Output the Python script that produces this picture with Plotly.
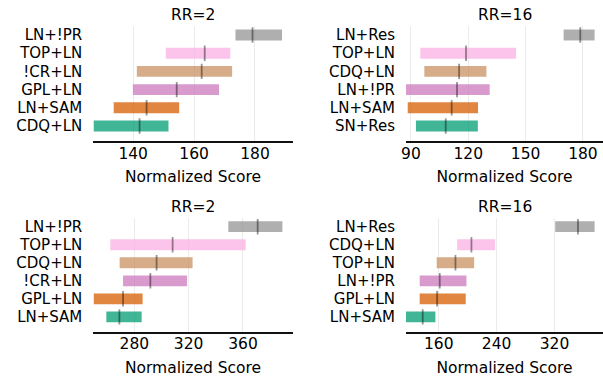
import plotly.graph_objects as go

# ---- data (bottom to top) ----
p1_title = "RR=2"
p1_labels = ["CDQ+LN", "LN+SAM", "GPL+LN", "!CR+LN", "TOP+LN", "LN+!PR"]
p1_low = [127.0, 133.6, 139.9, 141.2, 150.7, 173.6]
p1_high = [151.6, 155.1, 168.2, 172.5, 171.9, 188.9]
p1_med = [142.1, 144.4, 154.3, 162.5, 163.5, 179.2]
p1_ticks = [140, 160, 180]

p2_title = "RR=16"
p2_labels = ["SN+Res", "LN+SAM", "LN+!PR", "CDQ+LN", "TOP+LN", "LN+Res"]
p2_low = [92.6, 88.3, 87.4, 97.0, 94.9, 169.9]
p2_high = [125.0, 125.1, 131.2, 129.5, 145.0, 186.1]
p2_med = [108.2, 111.3, 114.1, 115.2, 118.8, 178.6]
p2_ticks = [90, 120, 150, 180]

p3_title = "RR=2"
p3_labels = ["LN+SAM", "GPL+LN", "!CR+LN", "CDQ+LN", "TOP+LN", "LN+!PR"]
p3_low = [259.4, 250.1, 271.7, 269.2, 262.3, 349.2]
p3_high = [285.4, 286.1, 318.8, 322.9, 362.0, 389.0]
p3_med = [269.0, 271.7, 291.8, 296.4, 308.2, 370.8]
p3_ticks = [280, 320, 360]

p4_title = "RR=16"
p4_labels = ["LN+SAM", "GPL+LN", "LN+!PR", "TOP+LN", "CDQ+LN", "LN+Res"]
p4_low = [114.8, 133.7, 133.7, 157.2, 185.4, 320.9]
p4_high = [155.4, 197.3, 198.3, 208.9, 237.9, 375.3]
p4_med = [137.9, 157.7, 161.4, 183.1, 205.2, 352.3]
p4_ticks = [160, 240, 320]

x_label = "Normalized Score"
colors = ["#029e73", "#d55e00", "#cc78bc", "#ca9161", "#fbafe4", "#949494"]

panels = [
    (p1_title, p1_labels, p1_low, p1_high, p1_med, p1_ticks, [126.9, 192.4]),
    (p2_title, p2_labels, p2_low, p2_high, p2_med, p2_ticks, [87.4, 190.5]),
    (p3_title, p3_labels, p3_low, p3_high, p3_med, p3_ticks, [249.8, 396.6]),
    (p4_title, p4_labels, p4_low, p4_high, p4_med, p4_ticks, [114.8, 386.9]),
]

W, H = 603, 377
xdoms = [[93.3 / W, 292.7 / W], [406 / W, 1.0], [93.3 / W, 292.7 / W], [406 / W, 1.0]]
ydoms = [[1 - 141 / H, 1 - 25.9 / H], [1 - 141 / H, 1 - 25.9 / H],
         [1 - 331.7 / H, 1 - 217.7 / H], [1 - 331.7 / H, 1 - 217.7 / H]]

FONT = "DejaVu Sans"
fig = go.Figure()
layout = dict(width=W, height=H, margin=dict(l=0, r=0, t=0, b=0, autoexpand=False),
              plot_bgcolor="white", paper_bgcolor="white", showlegend=False,
              font=dict(family=FONT, size=15, color="#000"), bargap=0.4)
annotations = []

for i, (title, labels, low, high, med, ticks, xr) in enumerate(panels):
    n = i + 1
    xa = "x" if n == 1 else f"x{n}"
    ya = "y" if n == 1 else f"y{n}"
    ypos = list(range(len(labels)))
    widths = [h - l for l, h in zip(low, high)]
    fig.add_trace(go.Bar(
        x=widths, base=low, y=ypos, orientation="h", width=0.6,
        marker=dict(color=colors, opacity=0.75, line=dict(width=0)),
        xaxis=xa, yaxis=ya, hoverinfo="skip"))
    fig.add_trace(go.Scatter(
        x=med, y=ypos, mode="markers", xaxis=xa, yaxis=ya,
        marker=dict(symbol="line-ns", size=11,
                    line=dict(width=1.8, color="rgba(0,0,0,0.42)"))))
    layout["xaxis" if n == 1 else f"xaxis{n}"] = dict(
        domain=xdoms[i], range=xr, anchor=ya, tickvals=ticks, automargin=False,
        showgrid=True, gridcolor="#ebebeb", gridwidth=1, zeroline=False,
        showline=True, linecolor="#111", linewidth=2, ticks="",
        ticklabelstandoff=-3,
        tickfont=dict(size=15.5, family=FONT),
        title=dict(text=x_label, font=dict(size=15.5, family=FONT), standoff=10))
    layout["yaxis" if n == 1 else f"yaxis{n}"] = dict(
        domain=ydoms[i], range=[-0.824, 5.5], anchor=xa, tickvals=ypos,
        automargin=False,
        ticktext=labels, showgrid=False, zeroline=False, showline=False,
        ticks="", ticklabelstandoff=10, tickfont=dict(size=15, family=FONT))
    annotations.append(dict(
        text=title, xref="paper", yref="paper",
        x=(xdoms[i][0] + xdoms[i][1]) / 2, y=ydoms[i][1] + 11 / H,
        xanchor="center", yanchor="middle", showarrow=False,
        font=dict(size=15.5, family=FONT, color="#000")))

layout["annotations"] = annotations
fig.update_layout(**layout)
fig.write_html("out.html")
